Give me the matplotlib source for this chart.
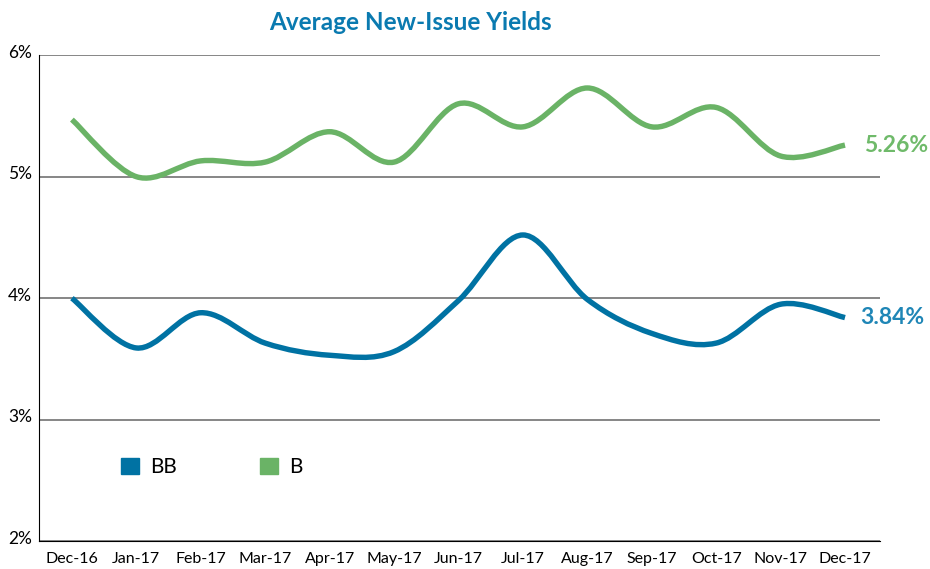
import matplotlib
matplotlib.use('Agg')
import matplotlib.pyplot as plt
from matplotlib.path import Path
from matplotlib.patches import PathPatch, Patch
import matplotlib.transforms as mtransforms
import numpy as np

months = ['Dec-16', 'Jan-17', 'Feb-17', 'Mar-17', 'Apr-17', 'May-17', 'Jun-17',
          'Jul-17', 'Aug-17', 'Sep-17', 'Oct-17', 'Nov-17', 'Dec-17']
bb = [4.00, 3.59, 3.88, 3.63, 3.53, 3.56, 3.98, 4.52, 3.99, 3.71, 3.63, 3.95, 3.84]
b = [5.47, 5.00, 5.13, 5.12, 5.37, 5.12, 5.60, 5.41, 5.73, 5.41, 5.57, 5.17, 5.26]
yticks = [2, 3, 4, 5, 6]

c_bb = '#0072a3'
c_b = '#6ab366'


def smooth_path(x, y):
    # catmull-rom style bezier segments, like excel's smoothed line
    x = np.asarray(x, float)
    y = np.asarray(y, float)
    n = len(x)
    verts = [(x[0], y[0])]
    codes = [Path.MOVETO]
    for i in range(n - 1):
        i0 = max(i - 1, 0)
        i3 = min(i + 2, n - 1)
        c1 = (x[i] + (x[i + 1] - x[i0]) / 6, y[i] + (y[i + 1] - y[i0]) / 6)
        c2 = (x[i + 1] - (x[i3] - x[i]) / 6, y[i + 1] - (y[i3] - y[i]) / 6)
        verts += [c1, c2, (x[i + 1], y[i + 1])]
        codes += [Path.CURVE4] * 3
    return Path(verts, codes)


plt.rcParams['font.family'] = ['Lato', 'DejaVu Sans']

fig = plt.figure(figsize=(9.3, 5.69), dpi=100)
ax = fig.add_axes([0.042, 0.049, 0.904, 0.854])

xs = np.arange(len(months))
ax.add_patch(PathPatch(smooth_path(xs, b), fill=False, edgecolor=c_b, lw=3.9,
                       capstyle='butt', zorder=3))
ax.add_patch(PathPatch(smooth_path(xs, bb), fill=False, edgecolor=c_bb, lw=3.9,
                       capstyle='butt', zorder=3))

ax.set_xlim(-0.51, 12.54)
ax.set_ylim(2, 6)
ax.set_yticks(yticks)
ax.set_yticklabels(['%d%%' % v for v in yticks], fontsize=12.5)
ax.set_xticks(xs)
ax.set_xticklabels(months, fontsize=11.5)
ax.tick_params(axis='x', length=0, pad=8)
ax.tick_params(axis='y', length=0, pad=5)
# y labels sit just above their gridline
up = mtransforms.ScaledTranslation(0, 4 / 100, fig.dpi_scale_trans)
for lab in ax.get_yticklabels():
    lab.set_transform(lab.get_transform() + up)
ax.grid(axis='y', color='#666666', lw=1.1)
ax.set_axisbelow(True)
for s in ['top', 'right']:
    ax.spines[s].set_visible(False)
ax.spines['left'].set_linewidth(0.8)
ax.spines['bottom'].set_linewidth(0.8)

ax.text(12.3, b[-1], '%.2f%%' % b[-1], color='#6fba6a', fontsize=16.5,
        fontweight='bold', va='center', ha='left', clip_on=False)
ax.text(12.24, bb[-1], '%.2f%%' % bb[-1], color='#1f86b6', fontsize=16.5,
        fontweight='bold', va='center', ha='left', clip_on=False)

handles = [Patch(color=c_bb, label='BB'), Patch(color=c_b, label='B')]
ax.legend(handles=handles, ncol=2, frameon=False, fontsize=15,
          loc='center left', bbox_to_anchor=(0.075, 0.152),
          handlelength=0.85, handleheight=0.85, columnspacing=4.0, handletextpad=0.55)

fig.text(0.441, 0.96, 'Average New-Issue Yields', color='#0a7ab0', fontsize=17.5,
         fontweight='bold', ha='center', va='center')

fig.savefig('out.png', dpi=100)
